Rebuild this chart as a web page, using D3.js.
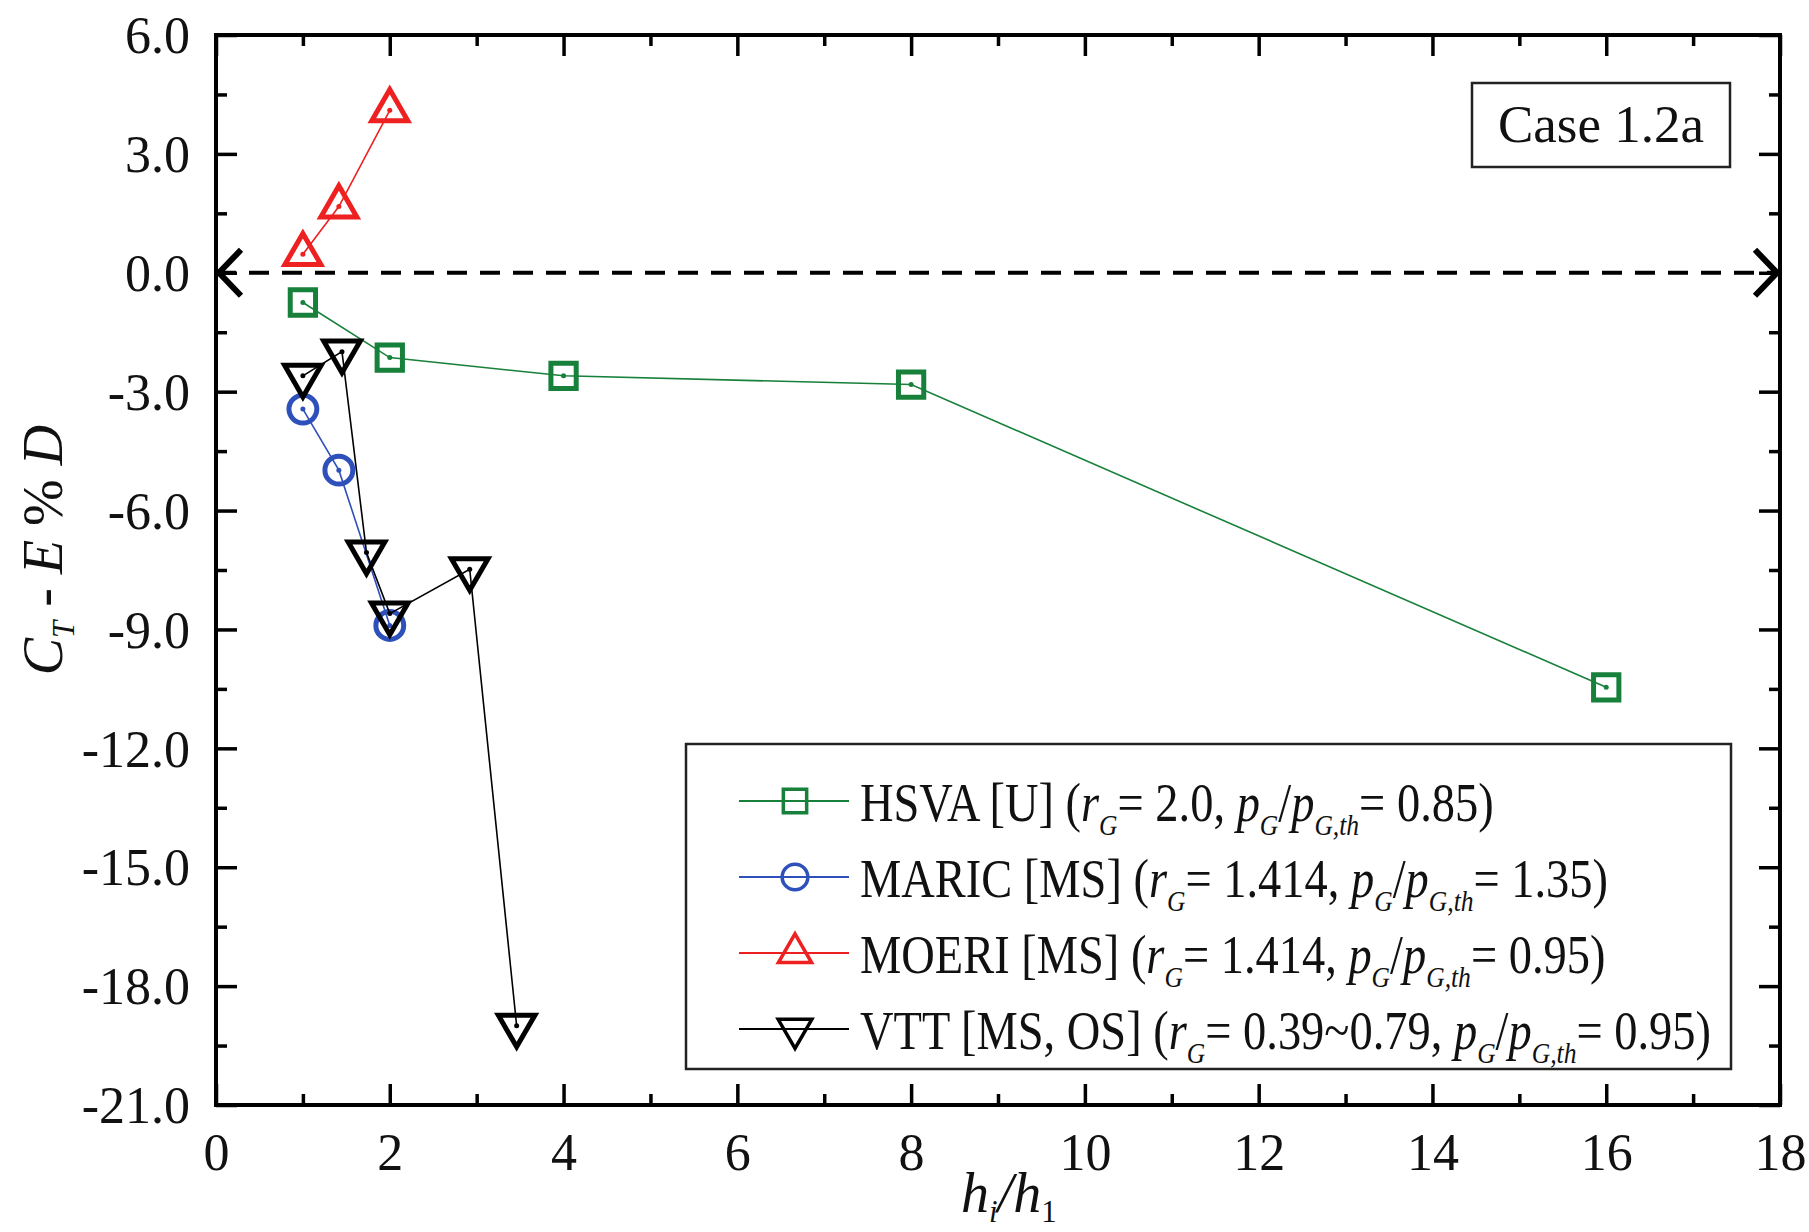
<!DOCTYPE html>
<html>
<head>
<meta charset="utf-8">
<script src="https://cdn.jsdelivr.net/npm/d3@7"></script>
<style>
  body { margin: 0; background: #fff; }
  text { font-family: "Liberation Serif", "Times New Roman", serif; fill: #111; }
</style>
</head>
<body>
<div id="chart-area"></div>
<script>
// values
const hsvaX = [1, 2, 4, 8, 16];
const hsvaY = [-0.75, -2.14, -2.6, -2.82, -10.46];
const maricX = [1, 1.414, 2];
const maricY = [-3.44, -4.98, -8.9];
const moeriX = [1, 1.414, 2];
const moeriY = [0.47, 1.67, 4.1];
const vttX = [1, 1.45, 1.732, 2, 2.92, 3.46];
const vttY = [-2.6, -1.99, -7.06, -8.6, -7.48, -19.0];

const xMajor = [0, 2, 4, 6, 8, 10, 12, 14, 16, 18];
const xMinor = [1, 3, 5, 7, 9, 11, 13, 15, 17];
const yMajor = [6, 3, 0, -3, -6, -9, -12, -15, -18, -21];
const yMinor = [4.5, 1.5, -1.5, -4.5, -7.5, -10.5, -13.5, -16.5, -19.5];

const seriesNames = ["HSVA [U] (", "MARIC [MS] (", "MOERI [MS] (", "VTT [MS, OS] ("];
const rG = ["= 2.0, ", "= 1.414, ", "= 1.414, ", "= 0.39~0.79, "];
const pRatio = ["= 0.85)", "= 1.35)", "= 0.95)", "= 0.95)"];
const caseLabel = "Case 1.2a";

const svg = d3.select("#chart-area")
    .append("svg")
    .attr("width", 1809)
    .attr("height", 1232);

const pLeft = 216, pRight = 1780, pTop = 35, pBottom = 1105;

const x = d3.scaleLinear().domain([0, 18]).range([pLeft, pRight]);
const y = d3.scaleLinear().domain([-21, 6]).range([pBottom, pTop]);

// axes: ticks point inward on all four sides
function addAxis(gen, tx, ty, vals, size, fmt) {
    const g = svg.append("g")
        .attr("transform", `translate(${tx},${ty})`)
        .call(gen.tickValues(vals).tickSize(size).tickSizeOuter(0).tickFormat(fmt));
    g.select(".domain").remove();
    g.selectAll(".tick line").attr("stroke", "#000").attr("stroke-width", 3.5);
    return g;
}

const noLabel = () => "";
const gx = addAxis(d3.axisBottom(x), 0, pBottom, xMajor, -21, d => String(d));
addAxis(d3.axisBottom(x), 0, pBottom, xMinor, -11, noLabel);
addAxis(d3.axisTop(x), 0, pTop, xMajor, -21, noLabel);
addAxis(d3.axisTop(x), 0, pTop, xMinor, -11, noLabel);
const gy = addAxis(d3.axisLeft(y), pLeft, 0, yMajor, -21, d => d.toFixed(1));
addAxis(d3.axisLeft(y), pLeft, 0, yMinor, -11, noLabel);
addAxis(d3.axisRight(y), pRight, 0, yMajor, -21, noLabel);
addAxis(d3.axisRight(y), pRight, 0, yMinor, -11, noLabel);

svg.selectAll("g").attr("font-family", null).attr("font-size", null);
gx.selectAll(".tick text")
    .attr("y", 65).attr("dy", 0)
    .attr("font-size", 52).attr("fill", "#111");
gy.selectAll(".tick text")
    .attr("x", -26).attr("dy", "0.34em")
    .attr("font-size", 52).attr("fill", "#111");

// frame
svg.append("rect")
    .attr("x", pLeft).attr("y", pTop)
    .attr("width", pRight - pLeft).attr("height", pBottom - pTop)
    .attr("fill", "none").attr("stroke", "#000").attr("stroke-width", 4);

// zero reference line with arrow heads
svg.append("line")
    .attr("x1", x(0)).attr("x2", x(18))
    .attr("y1", y(0)).attr("y2", y(0))
    .attr("stroke", "#000").attr("stroke-width", 4)
    .attr("stroke-dasharray", "20,13");
svg.append("path")
    .attr("d", `M${x(0) + 25},${y(0) - 23}L${x(0) + 3},${y(0)}L${x(0) + 25},${y(0) + 23}`)
    .attr("fill", "none").attr("stroke", "#000").attr("stroke-width", 6);
svg.append("path")
    .attr("d", `M${x(18) - 25},${y(0) - 23}L${x(18) - 3},${y(0)}L${x(18) - 25},${y(0) + 23}`)
    .attr("fill", "none").attr("stroke", "#000").attr("stroke-width", 6);

const series = [
    { xs: hsvaX, ys: hsvaY, color: "#17803a", sym: d3.symbolSquare, size: 640, rot: 0 },
    { xs: maricX, ys: maricY, color: "#2e50bb", sym: d3.symbolCircle, size: 610, rot: 0 },
    { xs: moeriX, ys: moeriY, color: "#ee2020", sym: d3.symbolTriangle, size: 560, rot: 0 },
    { xs: vttX, ys: vttY, color: "#000", sym: d3.symbolTriangle, size: 580, rot: 180 }
];

const line = d3.line().x(d => x(d[0])).y(d => y(d[1]));

series.forEach(s => {
    const pts = s.xs.map((v, i) => [v, s.ys[i]]);
    const g = svg.append("g");
    g.append("path")
        .attr("d", line(pts))
        .attr("fill", "none").attr("stroke", s.color).attr("stroke-width", 1.6);
    g.selectAll(".mk").data(pts).enter().append("path")
        .attr("class", "mk")
        .attr("transform", d => `translate(${x(d[0])},${y(d[1])}) rotate(${s.rot})`)
        .attr("d", d3.symbol().type(s.sym).size(s.size))
        .attr("fill", "none").attr("stroke", s.color).attr("stroke-width", 5);
    g.selectAll(".dot").data(pts).enter().append("circle")
        .attr("class", "dot")
        .attr("cx", d => x(d[0])).attr("cy", d => y(d[1]))
        .attr("r", 2.5).attr("fill", s.color);
});

// text with italic parts and subscripts
function rich(sel, parts, base, shift) {
    let shifted = false;
    parts.forEach(([t, st]) => {
        const sub = st === "s" || st === "sr";
        const ts = sel.append("tspan").text(t)
            .attr("font-style", (st === "i" || st === "s") ? "italic" : "normal")
            .attr("font-size", sub ? base * 0.55 : base);
        if (sub && !shifted) { ts.attr("dy", base * shift); shifted = true; }
        else if (!sub && shifted) { ts.attr("dy", -base * shift); shifted = false; }
    });
}

// legend
svg.append("rect")
    .attr("x", 686).attr("y", 744).attr("width", 1045).attr("height", 325)
    .attr("fill", "#fff").attr("stroke", "#222").attr("stroke-width", 2.5);

series.forEach((s, i) => {
    const ly = 801 + i * 76;
    svg.append("line")
        .attr("x1", 739).attr("x2", 849).attr("y1", ly).attr("y2", ly)
        .attr("stroke", s.color).attr("stroke-width", 2);
    svg.append("path")
        .attr("transform", `translate(795,${ly}) rotate(${s.rot})`)
        .attr("d", d3.symbol().type(s.sym).size(s.size * 0.85))
        .attr("fill", "none").attr("stroke", s.color).attr("stroke-width", 3.5);
    const t = svg.append("text")
        .attr("transform", `translate(860,${ly + 20}) scale(0.86,1)`)
        .attr("font-size", 54);
    rich(t, [
        [seriesNames[i], "r"], ["r", "i"], ["G", "s"], [rG[i], "r"],
        ["p", "i"], ["G", "s"], ["/", "r"], ["p", "i"], ["G,th", "s"], [pRatio[i], "r"]
    ], 54, 0.26);
});

// case label
svg.append("rect")
    .attr("x", 1472).attr("y", 83).attr("width", 258).attr("height", 84)
    .attr("fill", "#fff").attr("stroke", "#222").attr("stroke-width", 2.5);
svg.append("text")
    .attr("x", 1601).attr("y", 142)
    .attr("text-anchor", "middle")
    .attr("font-size", 53)
    .text(caseLabel);

// axis titles
const yt = svg.append("text")
    .attr("transform", "translate(62,550) rotate(-90)")
    .attr("text-anchor", "middle")
    .attr("font-size", 56);
rich(yt, [["C", "i"], ["T", "s"], [" - ", "r"], ["E", "i"], [" % ", "r"], ["D", "i"]], 56, 0.22);

const xt = svg.append("text")
    .attr("x", 961).attr("y", 1212)
    .attr("font-size", 56);
rich(xt, [["h", "i"], ["i", "s"], ["/", "i"], ["h", "i"], ["1", "sr"]], 56, 0.18);
</script>
</body>
</html>
